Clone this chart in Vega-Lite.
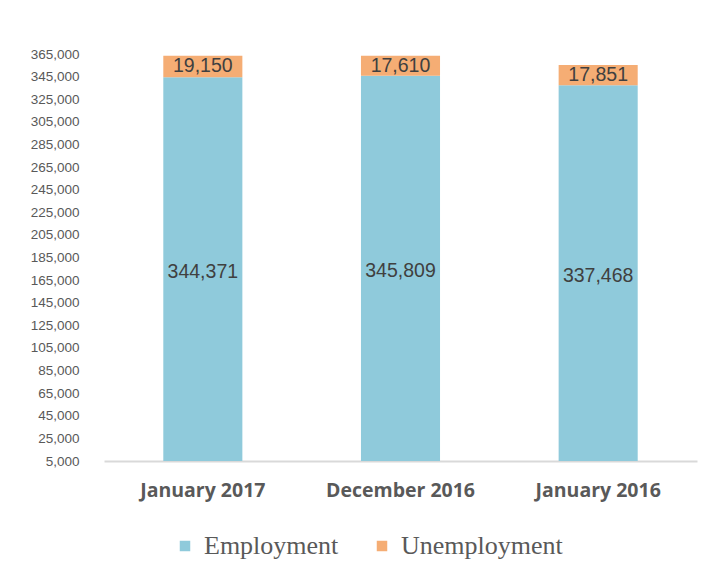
{
  "$schema": "https://vega.github.io/schema/vega-lite/v6.json",
  "width": 593,
  "height": 407,
  "autosize": {"type": "none"},
  "padding": {"left": 104, "top": 54, "right": 12, "bottom": 119},
  "background": "white",
  "config": {
    "view": {"stroke": null},
    "axisY": {
      "title": null,
      "format": ",.0f",
      "grid": false,
      "domain": false,
      "ticks": false,
      "labelOverlap": false,
      "labelPadding": 25,
      "labelFont": "Liberation Sans",
      "labelFontSize": 13.5,
      "labelColor": "#595959"
    }
  },
  "data": {
    "values": [
      {"period": "January 2017", "series": "Employment", "value": 344371},
      {"period": "January 2017", "series": "Unemployment", "value": 19150},
      {"period": "December 2016", "series": "Employment", "value": 345809},
      {"period": "December 2016", "series": "Unemployment", "value": 17610},
      {"period": "January 2016", "series": "Employment", "value": 337468},
      {"period": "January 2016", "series": "Unemployment", "value": 17851}
    ]
  },
  "transform": [
    {"stack": "value", "groupby": ["period"], "sort": [{"field": "series", "order": "ascending"}], "as": ["v0", "v1"]},
    {"calculate": "(datum.v0 + datum.v1) / 2", "as": "mid"}
  ],
  "encoding": {
    "x": {
      "field": "period",
      "type": "nominal",
      "sort": null,
      "scale": {"paddingInner": 0.6, "paddingOuter": 0.3},
      "axis": {
        "title": null,
        "labelAngle": 0,
        "labelFont": "Open Sans",
        "labelFontWeight": "bold",
        "labelFontSize": 19.5,
        "labelColor": "#595959",
        "labelPadding": 20,
        "ticks": false,
        "domainColor": "#d9d9d9",
        "domainWidth": 2
      }
    }
  },
  "layer": [
    {
      "mark": {"type": "bar", "clip": true},
      "encoding": {
        "y": {
          "field": "v1",
          "type": "quantitative",
          "scale": {"domain": [5000, 365000], "zero": false, "nice": false},
          "axis": {
            "format": ",.0f",
            "labelFontSize": 13.5,
            "values": [5000, 25000, 45000, 65000, 85000, 105000, 125000, 145000, 165000, 185000, 205000, 225000, 245000, 265000, 285000, 305000, 325000, 345000, 365000]
          }
        },
        "y2": {"field": "v0"},
        "color": {
          "field": "series",
          "type": "nominal",
          "scale": {"domain": ["Employment", "Unemployment"], "range": ["#8fcadb", "#f5ad74"]},
          "legend": {
            "title": null,
            "orient": "none",
            "direction": "horizontal",
            "legendX": 68,
            "legendY": 479,
            "symbolType": "square",
            "symbolSize": 110,
            "symbolStrokeWidth": 0,
            "labelFont": "Liberation Serif",
            "labelFontSize": 26,
            "labelLimit": 400,
            "labelColor": "#595959",
            "labelOffset": 6,
            "columnPadding": 30
          }
        }
      }
    },
    {
      "mark": {"type": "text", "font": "Liberation Sans", "fontSize": 19.5, "color": "#404040", "baseline": "middle"},
      "encoding": {
        "y": {
          "field": "mid",
          "type": "quantitative",
          "axis": {
            "format": ",.0f",
            "labelFontSize": 13.5,
            "values": [5000, 25000, 45000, 65000, 85000, 105000, 125000, 145000, 165000, 185000, 205000, 225000, 245000, 265000, 285000, 305000, 325000, 345000, 365000]
          }
        },
        "text": {"field": "value", "type": "quantitative", "format": ","}
      }
    }
  ]
}
